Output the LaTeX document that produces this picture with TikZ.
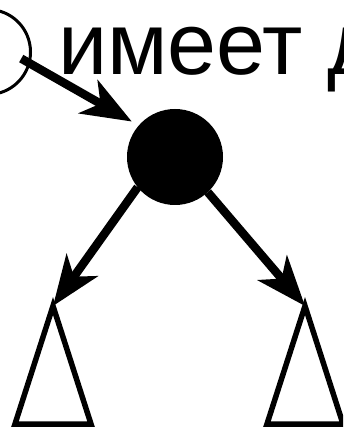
\documentclass[tikz,border=0pt]{standalone}
\usepackage{fontspec}
\setmainfont{Liberation Sans}
\usetikzlibrary{arrows.meta}
\begin{document}
\begin{tikzpicture}[x=1pt,y=-1pt,
  arr/.style={line width=8.5pt,-{Stealth[length=50pt,width=38pt,inset=14pt]}},
  tri/.style={line width=5.5pt,line join=miter},
  ring/.style={circle,draw,line width=3pt,minimum size=85pt,inner sep=0pt,outer sep=0pt},
  dot/.style={circle,fill=black,minimum size=96pt,inner sep=0pt,outer sep=0pt},
  lbl/.style={font=\fontsize{88}{90}\selectfont,inner sep=0pt,anchor=base west}]
\useasboundingbox (0,0) rectangle (343,427);
\clip (0,0) rectangle (343,427);
\node[ring] (c0) at (-12,52) {};
\node[dot] (b) at (175,157) {};
\node[lbl] (t) at (58,75) {имеет д};
\coordinate (a1) at (53,306);
\coordinate (a2) at (305,306);
\draw[tri] (a1) -- (91,424) -- (15,424) -- cycle;
\draw[tri] (a2) -- (343,424) -- (267,424) -- cycle;
\draw[arr,shorten <=-9pt,shorten >=8pt] (c0.-15) -- (b.139);
\draw[arr] (b.-141) -- (a1);
\draw[arr] (b.-47) -- (a2);
\end{tikzpicture}
\end{document}
